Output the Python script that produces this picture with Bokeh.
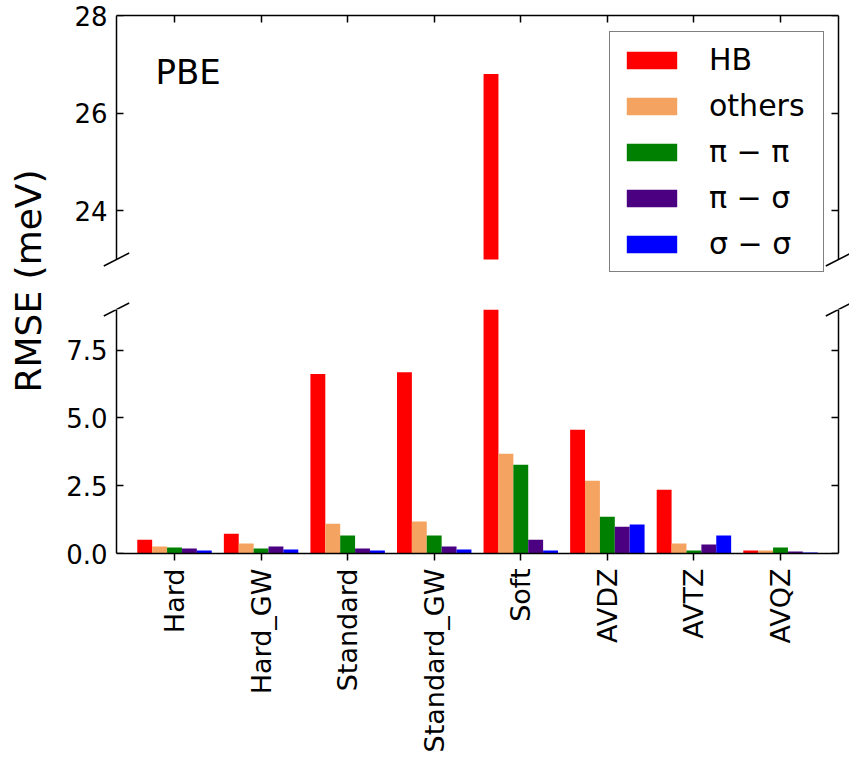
import numpy as np
from bokeh.plotting import figure
from bokeh.models import (ColumnDataSource, Range1d, LinearAxis, FixedTicker, CDSView, BooleanFilter,
                          PrintfTickFormatter, Legend, LegendItem, Label)
from bokeh.transform import dodge
from bokeh.layouts import row, column
from bokeh.embed import file_html
from bokeh.resources import INLINE

# ---------------- data ----------------
categories = ["Hard", "Hard_GW", "Standard", "Standard_GW", "Soft", "AVDZ", "AVTZ", "AVQZ"]
hb      = [0.51, 0.73, 6.62, 6.69, 26.8, 4.56, 2.35, 0.11]
others  = [0.26, 0.37, 1.10, 1.18, 3.68, 2.68, 0.37, 0.11]
pi_pi   = [0.22, 0.18, 0.66, 0.66, 3.27, 1.36, 0.11, 0.22]
pi_sig  = [0.18, 0.26, 0.18, 0.26, 0.51, 0.99, 0.33, 0.07]
sig_sig = [0.11, 0.15, 0.11, 0.15, 0.11, 1.07, 0.66, 0.04]
series_keys = ["hb", "others", "pi_pi", "pi_sig", "sig_sig"]
series_vals = [hb, others, pi_pi, pi_sig, sig_sig]
series_names = ["HB", "others", "\u03c0 \u2212 \u03c0", "\u03c0 \u2212 \u03c3", "\u03c3 \u2212 \u03c3"]
colors = ["#ff0000", "#f4a460", "#008000", "#4b0082", "#0000ff"]
top_ticks = [24, 26, 28]
bottom_ticks = [0, 2.5, 5.0, 7.5]
title_text = "PBE"
ylabel = "RMSE (meV)"

# ---------------- geometry / style ----------------
FONT = "DejaVu Sans"
BAR_W = 0.172
offsets = [-2 * BAR_W, -BAR_W, 0.0, BAR_W, 2 * BAR_W]
XR = (-0.67, 7.67)          # axes x limits (spines)
TOP_YR = (23, 28)
BOT_YR = (0, 9)
AX_W = 722                  # spine-to-spine width, px
PANEL_H = 244               # each panel height, px
GAP = 50                    # gap between panels, px
LEFT_PAD, RIGHT_PAD = 16, 11  # frame extension beyond spines (room for break marks)
LAB_W = 50
TOTAL_H = 760
FRAME_LEFT = 100

ppx = AX_W / (XR[1] - XR[0])
tppy = PANEL_H / (TOP_YR[1] - TOP_YR[0])
bppy = PANEL_H / (BOT_YR[1] - BOT_YR[0])
FRAME_W = AX_W + LEFT_PAD + RIGHT_PAD
XF = (XR[0] - LEFT_PAD / ppx, XR[1] + RIGHT_PAD / ppx)
top_ylo = TOP_YR[0] - GAP / tppy

src = ColumnDataSource(dict(idx=list(range(len(categories))), hb=hb, others=others,
                            pi_pi=pi_pi, pi_sig=pi_sig, sig_sig=sig_sig))


def style_axis(ax, tick_in, tick_out, labels=True, size="26px"):
    ax.axis_line_width = 1.5
    ax.axis_line_color = "black"
    ax.major_tick_line_width = 1.5
    ax.major_tick_line_color = "black"
    ax.major_tick_in = tick_in
    ax.major_tick_out = tick_out
    ax.minor_tick_line_color = None
    ax.major_label_text_font = FONT
    ax.major_label_text_color = "black"
    if labels:
        ax.major_label_text_font_size = size
    else:
        ax.major_label_text_font_size = "0px"
        ax.major_label_text_color = None
        ax.major_label_standoff = 0


def label_only_axis(ax, ticks):
    # tick labels drawn at the frame edge, pulled in so they sit next to the spine
    ax.ticker = FixedTicker(ticks=ticks)
    ax.axis_line_color = None
    ax.major_tick_line_color = None
    ax.minor_tick_line_color = None
    ax.major_tick_in = 0
    ax.major_tick_out = 0
    ax.major_label_text_font = FONT
    ax.major_label_text_font_size = "26px"
    ax.major_label_text_color = "black"
    ax.major_label_standoff = -(LEFT_PAD - 9)


def spine_axis(ticks, loc, bounds):
    ax = LinearAxis(ticker=FixedTicker(ticks=ticks), fixed_location=loc, bounds=bounds)
    style_axis(ax, 7, 0, labels=False)
    return ax


def break_marks(p, centers, ppy):
    dx = 12.7 / ppx
    dy = 6.5 / ppy
    p.segment(x0=[c[0] - dx for c in centers], y0=[c[1] - dy for c in centers],
              x1=[c[0] + dx for c in centers], y1=[c[1] + dy for c in centers],
              line_color="black", line_width=1.5)


# ---------------- top panel ----------------
top = figure(frame_width=FRAME_W, frame_height=PANEL_H + GAP, x_range=Range1d(*XF),
             y_range=Range1d(top_ylo, TOP_YR[1]),
             toolbar_location=None, output_backend="svg", x_axis_location="above",
             min_border_left=FRAME_LEFT - LAB_W, min_border_right=0, min_border_top=15,
             min_border_bottom=0, outline_line_color=None)
top.grid.visible = False
legend_renderers = []
for k, vals, off, c in zip(series_keys, series_vals, offsets, colors):
    view = CDSView(filter=BooleanFilter([v > TOP_YR[0] for v in vals]))
    top.vbar(x=dodge("idx", off), top=k, bottom=TOP_YR[0], width=BAR_W, source=src, view=view,
             fill_color=c, line_color=None)
    # zero-height proxy carrying the legend swatch
    lr = top.vbar(x=dodge("idx", off), top=k, bottom=k, width=BAR_W, source=src,
                  fill_color=c, line_color=None)
    legend_renderers.append(lr)

style_axis(top.xaxis[0], 7, 0, labels=False)
top.xaxis[0].ticker = FixedTicker(ticks=list(range(len(categories))))
top.xaxis[0].bounds = XR
label_only_axis(top.yaxis[0], top_ticks)
top.add_layout(spine_axis(top_ticks, XR[0], TOP_YR), "left")
top.add_layout(spine_axis(top_ticks, XR[1], TOP_YR), "right")

top.add_layout(Label(x=-0.22, y=26.84, text=title_text, text_font=FONT, text_font_size="34px",
                     text_baseline="alphabetic", text_align="left", text_color="black"))

legend = Legend(items=[LegendItem(label=n, renderers=[r]) for n, r in zip(series_names, legend_renderers)],
                location=(509, 37))
legend.label_text_font = FONT
legend.label_text_font_size = "30px"
legend.label_text_color = "black"
legend.glyph_width = 63
legend.glyph_height = 22
legend.label_height = 22
legend.label_width = 104
legend.label_standoff = 26
legend.padding = 10
legend.spacing = 11
legend.margin = 0
legend.border_line_color = "black"
legend.border_line_width = 1.5
legend.background_fill_color = "white"
legend.background_fill_alpha = 1.0
top.add_layout(legend)

# break marks: those of the top panel, and the upper halves of the bottom panel's
break_marks(top, [(XR[0], TOP_YR[0]), (XR[1], TOP_YR[0]), (XR[0], top_ylo), (XR[1], top_ylo)], tppy)

# ---------------- bottom panel ----------------
bot = figure(frame_width=FRAME_W, frame_height=PANEL_H, x_range=Range1d(*XF), y_range=Range1d(*BOT_YR),
             toolbar_location=None, output_backend="svg",
             min_border_left=FRAME_LEFT - LAB_W, min_border_right=0, min_border_top=0,
             min_border_bottom=TOTAL_H - 15 - 2 * PANEL_H - GAP,
             outline_line_color=None)
bot.grid.visible = False
for k, off, c in zip(series_keys, offsets, colors):
    bot.vbar(x=dodge("idx", off), top=k, bottom=0, width=BAR_W, source=src,
             fill_color=c, line_color=None)

style_axis(bot.xaxis[0], 0, 7, size="27px")
bot.xaxis[0].ticker = FixedTicker(ticks=list(range(len(categories))))
bot.xaxis[0].major_label_overrides = {i: c for i, c in enumerate(categories)}
bot.xaxis[0].major_label_orientation = np.pi / 2
bot.xaxis[0].major_label_standoff = 8
bot.xaxis[0].bounds = XR
label_only_axis(bot.yaxis[0], bottom_ticks)
bot.yaxis[0].formatter = PrintfTickFormatter(format="%.1f")
bot.add_layout(spine_axis(bottom_ticks, XR[0], BOT_YR), "left")
bot.add_layout(spine_axis(bottom_ticks, XR[1], BOT_YR), "right")

break_marks(bot, [(XR[0], BOT_YR[1]), (XR[1], BOT_YR[1])], bppy)

# ---------------- y label strip ----------------
lab = figure(width=LAB_W, height=TOTAL_H, x_range=Range1d(0, LAB_W), y_range=Range1d(0, TOTAL_H),
             toolbar_location=None, output_backend="svg", min_border=0,
             x_axis_location=None, y_axis_location=None, outline_line_color=None)
lab.grid.visible = False
lab.add_layout(Label(x=27.5, y=TOTAL_H - 280.5, text=ylabel, angle=np.pi / 2, text_align="center",
                     text_baseline="middle", text_font=FONT, text_font_size="36px",
                     text_color="black"))

layout = row(lab, column(top, bot))
open("out.html", "w").write(file_html(layout, INLINE))
